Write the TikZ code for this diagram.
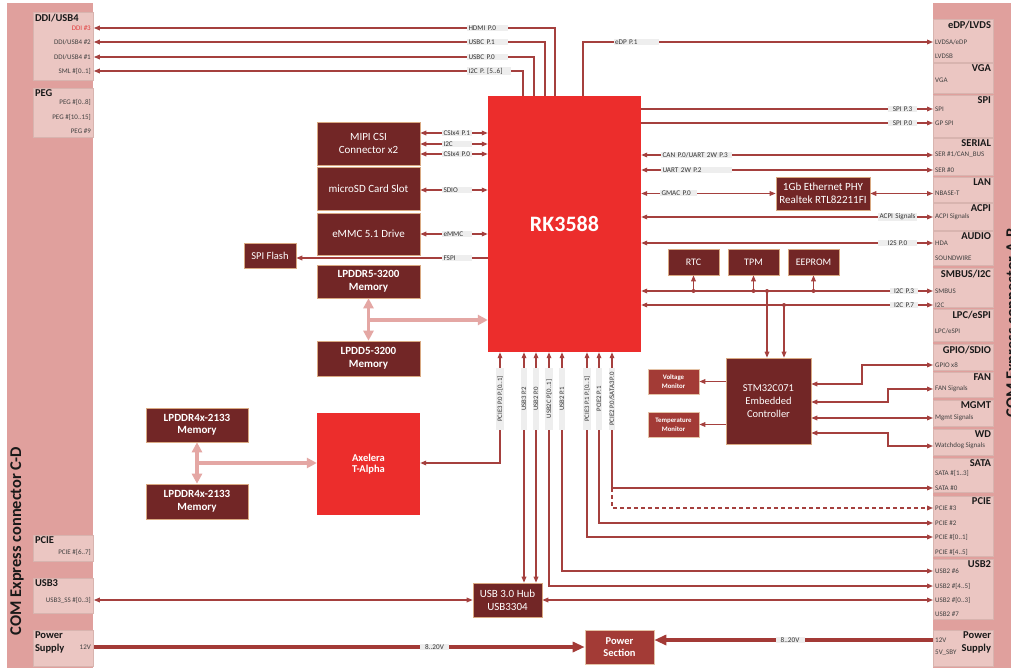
\documentclass[tikz,border=0pt]{standalone}
\usepackage{fontspec}
\setmainfont{Carlito}
\usetikzlibrary{arrows.meta}
\definecolor{mar}{HTML}{722626}
\definecolor{rkred}{HTML}{EC2D2C}
\definecolor{medred}{HTML}{A33B36}
\definecolor{cbar}{HTML}{E0A09D}
\definecolor{cboxc}{HTML}{EBC6C2}
\definecolor{cedge}{HTML}{D8B4AF}
\definecolor{lnc}{HTML}{A5403E}
\definecolor{pwc}{HTML}{A33A36}
\definecolor{pinkc}{HTML}{E4A7A4}
\definecolor{lblg}{HTML}{EEEEEE}
\definecolor{itmc}{HTML}{404040}
\definecolor{tanedge}{HTML}{D9A982}
\definecolor{ddired}{HTML}{E23B3B}
\begin{document}
\begin{tikzpicture}[x=1pt,y=-1pt,
  >={Triangle[length=6pt,width=4.6pt]},
  ln/.style={draw=lnc,line width=1.3pt},
  dbox/.style={fill=mar,draw=tanedge,line width=0.6pt,text=white,align=center,font=\fontsize{11}{13}\selectfont,inner sep=0pt},
  dboxb/.style={dbox,font=\bfseries\fontsize{11}{12.5}\selectfont},
  mbox/.style={fill=medred,draw=tanedge!70,line width=0.6pt,text=white,align=center,font=\bfseries\fontsize{10.5}{12.5}\selectfont,inner sep=0pt},
  rbox/.style={fill=rkred,draw=none,text=white,align=center,inner sep=0pt},
  cbox/.style={fill=cboxc,draw=cedge,line width=0.8pt,inner sep=0pt,anchor=north west,minimum width=60pt},
  ttl/.style={font=\bfseries\fontsize{10.5}{13}\selectfont,text=black!90,inner sep=0.8pt},
  itm/.style={font=\fontsize{7}{8}\selectfont,text=itmc,inner sep=1pt},
  lbl/.style={fill=lblg,font=\fontsize{7.2}{8}\selectfont,text=black!80,inner xsep=1.5pt,inner ysep=0.6pt},
  lblw/.style={lbl,text width=#1,align=left},
  lblc/.style={lbl,text width=#1,align=center},
  vlbl/.style={lbl,font=\fontsize{6.8}{8}\selectfont,rotate=90,minimum width=62pt},
  pw/.style={draw=pwc,line width=3.4pt,-{Triangle[length=12pt,width=10pt]}},
  pk/.style={draw=pinkc,line width=3.6pt},
  pkd/.style={pk,{Triangle[length=10pt,width=10pt]}-{Triangle[length=10pt,width=10pt]}},
  pka/.style={pk,-{Triangle[length=10pt,width=10pt]}},
  side/.style={font=\bfseries\fontsize{16.4}{18}\selectfont,text=black!90,rotate=90,inner sep=0pt}
]
\useasboundingbox (0,0) rectangle (1011,668);
\fill[white] (0,0) rectangle (1011,668);

% ---------- connector bars ----------
\fill[cbar] (7,3) rectangle (93,690);
\fill[cbar] (933,3) rectangle (1040,690);
\node[side] (sideL) at (17,541) {COM Express connector C-D};
\node[side] (sideR) at (1013,323) {COM Express connector A-B};

% left boxes
\node[cbox,minimum height=68pt] (ddi) at (33,12) {};
\node[cbox,minimum height=49pt] (peg) at (33,88) {};
\node[cbox,minimum height=26pt] (pcieL) at (33,535) {};
\node[cbox,minimum height=35pt] (usb3L) at (33,578) {};
\node[cbox,minimum height=36pt] (pwrL) at (33,630) {};
\node[ttl,anchor=north west] (tDDI) at (34,13) {DDI/USB4};
\node[ttl,anchor=north west] (tPEG) at (34,89) {PEG};
\node[ttl,anchor=north west] (tPCIEL) at (34,536) {PCIE};
\node[ttl,anchor=north west] (tUSB3) at (34,579) {USB3};
\node[ttl,anchor=north west,align=left] (tPwrL) at (34,631) {Power\\Supply};
\node[itm,anchor=east,text=ddired] (iDDI3) at (92,28) {DDI \#3};
\node[itm,anchor=east] (iDDI2) at (92,42) {DDI/USB4 \#2};
\node[itm,anchor=east] (iDDI1) at (92,57) {DDI/USB4 \#1};
\node[itm,anchor=east] (iSML) at (92,71) {SML \#[0..1]};
\node[itm,anchor=east] (iPEG1) at (92,102) {PEG \#[0..8]};
\node[itm,anchor=east] (iPEG2) at (92,117) {PEG \#[10..15]};
\node[itm,anchor=east] (iPEG3) at (92,131) {PEG \#9};
\node[itm,anchor=east] (iPCIEL) at (92,552) {PCIE \#[6..7]};
\node[itm,anchor=east] (iUSS) at (92,600) {USB3\_SS \#[0..3]};
\node[itm,anchor=east] (iV12L) at (92,647) {12V};

% right boxes
\node[cbox,minimum height=43pt] (edp) at (933,19) {};
\node[cbox,minimum height=30pt] (vga) at (933,63) {};
\node[cbox,minimum height=42pt] (spi) at (933,95) {};
\node[cbox,minimum height=37pt] (serial) at (933,138) {};
\node[cbox,minimum height=25pt] (lan) at (933,177) {};
\node[cbox,minimum height=27pt] (acpi) at (933,203) {};
\node[cbox,minimum height=34pt] (audio) at (933,231) {};
\node[cbox,minimum height=39pt] (smbus) at (933,268) {};
\node[cbox,minimum height=32pt] (lpc) at (933,309) {};
\node[cbox,minimum height=26pt] (gpio) at (933,344) {};
\node[cbox,minimum height=25pt] (fan) at (933,372) {};
\node[cbox,minimum height=26pt] (mgmt) at (933,400) {};
\node[cbox,minimum height=26pt] (wd) at (933,429) {};
\node[cbox,minimum height=34pt] (sata) at (933,458) {};
\node[cbox,minimum height=60pt] (pcieR) at (933,496) {};
\node[cbox,minimum height=60pt] (usb2) at (933,559) {};
\node[cbox,minimum height=36pt] (pwrR) at (933,630) {};

\node[ttl,anchor=north east] (tEDP) at (992,20) {eDP/LVDS};
\node[ttl,anchor=north east] (tVGA) at (992,64) {VGA};
\node[ttl,anchor=north east] (tSPI) at (992,96) {SPI};
\node[ttl,anchor=north east] (tSER) at (992,139) {SERIAL};
\node[ttl,anchor=north east] (tLAN) at (992,178) {LAN};
\node[ttl,anchor=north east] (tACPI) at (992,204) {ACPI};
\node[ttl,anchor=north east] (tAUD) at (992,232) {AUDIO};
\node[ttl,anchor=north east] (tSMB) at (992,269) {SMBUS/I2C};
\node[ttl,anchor=north east] (tLPC) at (992,310) {LPC/eSPI};
\node[ttl,anchor=north east] (tGPIO) at (992,345) {GPIO/SDIO};
\node[ttl,anchor=north east] (tFAN) at (992,373) {FAN};
\node[ttl,anchor=north east] (tMG) at (992,401) {MGMT};
\node[ttl,anchor=north east] (tWD) at (992,430) {WD};
\node[ttl,anchor=north east] (tSATA) at (992,459) {SATA};
\node[ttl,anchor=north east] (tPCIER) at (992,497) {PCIE};
\node[ttl,anchor=north east] (tUSB2) at (992,560) {USB2};
\node[ttl,anchor=north east,align=right] (tPwrR) at (992,631) {Power\\Supply};

\node[itm,anchor=west] (iLVDSA) at (934,42) {LVDSA/eDP};
\node[itm,anchor=west] (iLVDSB) at (934,56) {LVDSB};
\node[itm,anchor=west] (iVGA) at (934,80) {VGA};
\node[itm,anchor=west] (iSPI) at (934,109) {SPI};
\node[itm,anchor=west] (iGPSPI) at (934,123) {GP SPI};
\node[itm,anchor=west] (iSER1) at (934,155) {SER \#1/CAN\_BUS};
\node[itm,anchor=west] (iSER0) at (934,170) {SER \#0};
\node[itm,anchor=west] (iNB) at (934,193) {NBASE-T};
\node[itm,anchor=west] (iACPI) at (934,217) {ACPI Signals};
\node[itm,anchor=west] (iHDA) at (934,243) {HDA};
\node[itm,anchor=west] (iSW) at (934,258) {SOUNDWIRE};
\node[itm,anchor=west] (iSMB) at (934,291) {SMBUS};
\node[itm,anchor=west] (iI2C) at (934,305) {I2C};
\node[itm,anchor=west] (iLPC) at (934,331) {LPC/eSPI};
\node[itm,anchor=west] (iGPIO) at (934,365) {GPIO x8};
\node[itm,anchor=west] (iFAN) at (934,389) {FAN Signals};
\node[itm,anchor=west] (iMG) at (934,418) {Mgmt Signals};
\node[itm,anchor=west] (iWD) at (934,446) {Watchdog Signals};
\node[itm,anchor=west] (iSATA13) at (934,473) {SATA \#[1..3]};
\node[itm,anchor=west] (iSATA0) at (934,488) {SATA \#0};
\node[itm,anchor=west] (iP3) at (934,508) {PCIE \#3};
\node[itm,anchor=west] (iP2) at (934,523) {PCIE \#2};
\node[itm,anchor=west] (iP01) at (934,537) {PCIE \#[0..1]};
\node[itm,anchor=west] (iP45) at (934,552) {PCIE \#[4..5]};
\node[itm,anchor=west] (iU6) at (934,571) {USB2 \#6};
\node[itm,anchor=west] (iU45) at (934,586) {USB2 \#[4..5]};
\node[itm,anchor=west] (iU03) at (934,600) {USB2 \#[0..3]};
\node[itm,anchor=west] (iU7) at (934,614) {USB2 \#7};
\node[itm,anchor=west] (iV12R) at (934,640) {12V};
\node[itm,anchor=west] (iSBY) at (934,653) {5V\_SBY};

% ---------- main blocks ----------
\node[rbox,minimum width=153pt,minimum height=256pt,font=\bfseries\fontsize{22}{24}\selectfont] (rk) at (564.5,224) {RK3588};
\node[dbox,minimum width=103pt,minimum height=43pt] (mipi) at (368.5,143.5) {MIPI CSI\\Connector x2};
\node[dbox,minimum width=103pt,minimum height=43pt] (sd) at (368.5,188.5) {microSD Card Slot};
\node[dbox,minimum width=103pt,minimum height=42pt] (emmc) at (368.5,234) {eMMC 5.1 Drive};
\node[dbox,minimum width=52pt,minimum height=25pt,font=\fontsize{10.5}{12}\selectfont] (spif) at (270,255.5) {SPI Flash};
\node[dboxb,minimum width=103pt,minimum height=33pt] (lp5a) at (368.5,281.5) {LPDDR5-3200\\Memory};
\node[dboxb,minimum width=103pt,minimum height=35pt] (lp5b) at (368.5,358.5) {LPDD5-3200\\Memory};
\node[rbox,minimum width=103pt,minimum height=102pt,font=\bfseries\fontsize{10.5}{11.5}\selectfont] (axe) at (368.5,464) {Axelera\\T-Alpha};
\node[dboxb,minimum width=102pt,minimum height=34pt] (lp4a) at (197,425) {LPDDR4x-2133\\Memory};
\node[dboxb,minimum width=102pt,minimum height=35pt] (lp4b) at (197,501.5) {LPDDR4x-2133\\Memory};
\node[dbox,minimum width=69pt,minimum height=34pt,font=\fontsize{11}{13}\selectfont] (hub) at (507.5,600) {USB 3.0 Hub\\USB3304};
\node[mbox,minimum width=69pt,minimum height=34pt] (psec) at (619.5,647) {Power\\Section};
\node[dbox,minimum width=94pt,minimum height=33pt] (phy) at (823,193.5) {1Gb Ethernet PHY\\Realtek RTL82211FI};
\node[dbox,minimum width=51pt,minimum height=26pt,font=\fontsize{10}{11}\selectfont] (rtc) at (693.5,262) {RTC};
\node[dbox,minimum width=51pt,minimum height=26pt,font=\fontsize{10}{11}\selectfont] (tpm) at (753.5,262) {TPM};
\node[dbox,minimum width=51pt,minimum height=26pt,font=\fontsize{10}{11}\selectfont] (eep) at (813.5,262) {EEPROM};
\node[dbox,minimum width=85pt,minimum height=86pt,font=\fontsize{10.5}{13}\selectfont] (stm) at (768.5,401) {STM32C071\\Embedded\\Controller};
\node[mbox,minimum width=51pt,minimum height=25pt,font=\bfseries\fontsize{6.8}{9}\selectfont] (volt) at (673.5,381.5) {Voltage\\Monitor};
\node[mbox,minimum width=51pt,minimum height=25pt,font=\bfseries\fontsize{6.8}{9}\selectfont] (temp) at (673.5,424.5) {Temperature\\Monitor};

% ---------- helper coordinates ----------
\coordinate (xHDMI) at (555,0);
\coordinate (xUP1) at (545,0);
\coordinate (xUP0) at (534,0);
\coordinate (xI2C56) at (523,0);
\coordinate (xEDP) at (583,0);
\coordinate (xV1) at (500,0);
\coordinate (xV2) at (524,0);
\coordinate (xV3) at (536,0);
\coordinate (xV4) at (549,0);
\coordinate (xV5) at (562,0);
\coordinate (xV6) at (587,0);
\coordinate (xV7) at (599,0);
\coordinate (xV8) at (612,0);
\coordinate (xS1) at (767,0);
\coordinate (xS2) at (784,0);
\coordinate (xGP) at (862,0);
\coordinate (xFW) at (888,0);
\coordinate (yC1) at (0,133);
\coordinate (yC2) at (0,144);
\coordinate (yC3) at (0,154);
\coordinate (ySD) at (0,190);
\coordinate (yEM) at (0,234);
\coordinate (yFSPI) at (0,258);
\coordinate (yLP5) at (0,320);
\coordinate (yAX) at (0,463);
\coordinate (yGP) at (0,384);
\coordinate (yFAN) at (0,402);
\coordinate (yWD) at (0,433);

% ---------- connectors ----------
\draw[ln,->] (rk.north -| xHDMI) |- (ddi.east |- iDDI3);
\draw[ln,->] (rk.north -| xUP1) |- (ddi.east |- iDDI2);
\draw[ln,->] (rk.north -| xUP0) |- (ddi.east |- iDDI1);
\draw[ln,->] (rk.north -| xI2C56) |- (ddi.east |- iSML);
\draw[ln,->] (rk.north -| xEDP) |- (edp.west |- iLVDSA);

\draw[ln,->] (rk.east |- iSPI) -- (spi.west |- iSPI);
\draw[ln,->] (rk.east |- iGPSPI) -- (spi.west |- iGPSPI);
\draw[ln,<->] (rk.east |- iSER1) -- (serial.west |- iSER1);
\draw[ln,<->] (rk.east |- iSER0) -- (serial.west |- iSER0);
\draw[ln,<->] (rk.east |- phy) -- (phy.west);
\draw[ln,<->] (phy.east) -- (lan.west |- phy);
\draw[ln,<->] (rk.east |- iACPI) -- (acpi.west |- iACPI);
\draw[ln,<->] (rk.east |- iHDA) -- (audio.west |- iHDA);
\draw[ln,<->] (rk.east |- iSMB) -- (smbus.west |- iSMB);
\draw[ln,<->] (rk.east |- iI2C) -- (smbus.west |- iI2C);
\draw[ln,->] (rtc.south |- iSMB) -- (rtc.south);
\draw[ln,->] (tpm.south |- iSMB) -- (tpm.south);
\draw[ln,->] (eep.south |- iSMB) -- (eep.south);
\draw[ln,->] (xS1 |- iSMB) -- (xS1 |- stm.north);
\draw[ln,->] (xS2 |- iI2C) -- (xS2 |- stm.north);
\fill[lnc] (rtc.south |- iSMB) circle (2);
\fill[lnc] (tpm.south |- iSMB) circle (2);
\fill[lnc] (eep.south |- iSMB) circle (2);
\fill[lnc] (xS1 |- iSMB) circle (2);
\fill[lnc] (xS2 |- iI2C) circle (2);

\draw[ln,->] (stm.west |- volt) -- (volt.east);
\draw[ln,->] (stm.west |- temp) -- (temp.east);
\draw[ln,<->] (stm.east |- yGP) -| (xGP |- iGPIO) -- (gpio.west |- iGPIO);
\draw[ln,<->] (stm.east |- yFAN) -| (xFW |- iFAN) -- (fan.west |- iFAN);
\draw[ln,<->] (stm.east |- iMG) -- (mgmt.west |- iMG);
\draw[ln,<->] (stm.east |- yWD) -| (xFW |- iWD) -- (wd.west |- iWD);

\draw[ln,<->] (rk.south -| xV1) |- (axe.east |- yAX);
\draw[ln,<->] (rk.south -| xV2) -- (hub.north -| xV2);
\draw[ln,<->] (rk.south -| xV3) -- (hub.north -| xV3);
\draw[ln,<->] (rk.south -| xV4) |- (usb2.west |- iU45);
\draw[ln,<->] (rk.south -| xV5) |- (usb2.west |- iU6);
\draw[ln,<->] (rk.south -| xV6) |- (pcieR.west |- iP01);
\draw[ln,<->] (rk.south -| xV7) |- (pcieR.west |- iP2);
\draw[ln,<->] (rk.south -| xV8) |- (sata.west |- iSATA0);
\draw[ln,->,dash pattern=on 4pt off 3pt] (xV8 |- iSATA0) |- (pcieR.west |- iP3);
\draw[ln,<->] (hub.east |- iU03) -- (usb2.west |- iU03);
\draw[ln,<->] (usb3L.east |- iUSS) -- (hub.west |- iUSS);

\draw[ln,<->] (mipi.east |- yC1) -- (rk.west |- yC1);
\draw[ln,<->] (mipi.east |- yC2) -- (rk.west |- yC2);
\draw[ln,<->] (mipi.east |- yC3) -- (rk.west |- yC3);
\draw[ln,<->] (sd.east |- ySD) -- (rk.west |- ySD);
\draw[ln,<->] (emmc.east |- yEM) -- (rk.west |- yEM);
\draw[ln,->] (rk.west |- yFSPI) -- (spif.east |- yFSPI);

\draw[pkd] (lp5a.south) -- (lp5b.north);
\draw[pka] (lp5a.south |- yLP5) -- (rk.west |- yLP5);
\draw[pkd] (lp4a.south) -- (lp4b.north);
\draw[pka] (lp4a.south |- yAX) -- (axe.west |- yAX);

\draw[pw] (pwrL.east |- iV12L) -- (psec.west |- iV12L);
\draw[pw] (pwrR.west |- iV12R) -- (psec.east |- iV12R);

% ---------- line labels ----------
\node[lblw=38pt] (lHDMI) at (487.5,28) {HDMI P.0};
\node[lblw=38pt] (lUP1) at (487.5,42) {USBC P.1};
\node[lblw=38pt] (lUP0) at (487.5,57) {USBC P.0};
\node[lblw=41pt] (lI2C56) at (489,71) {I2C P. [5..6]};
\node[lblw=42pt] (lEDP) at (636,42) {eDP P.1};
\node[lblc=26pt] (lSPI3) at (902.5,109) {SPI P.3};
\node[lblc=26pt] (lSPI0) at (902.5,123) {SPI P.0};
\node[lblw=68pt] (lCAN) at (696.5,155) {CAN P.0/UART 2W P.3};
\node[lblw=68pt] (lUART) at (696.5,170) {UART 2W P.2};
\node[lblw=34pt] (lGMAC) at (678.5,193) {GMAC P.0};
\node[lblc=36pt] (lACPI) at (897.5,217) {ACPI Signals};
\node[lblc=36pt] (lI2S) at (897.5,243) {I2S P.0};
\node[lblc=25pt] (lI2C3) at (904,291) {I2C P.3};
\node[lblc=25pt] (lI2C7) at (904,305) {I2C P.7};
\node[lblw=27pt] (lC1) at (457,133) {CSIx4 P.1};
\node[lblw=27pt] (lC2) at (457,144) {I2C};
\node[lblw=27pt] (lC3) at (457,154) {CSIx4 P.0};
\node[lblw=27pt] (lSDIO) at (457,190) {SDIO};
\node[lblw=27pt] (lEMMC) at (457,234) {eMMC};
\node[lblw=27pt] (lFSPI) at (457,258) {FSPI};
\node[lblc=26pt] (lPL) at (434.5,647) {8..20V};
\node[lblc=26pt] (lPR) at (790,640) {8..20V};
\node[vlbl] (vl1) at (500,399) {PCIE3 P.0 P.[0..1]};
\node[vlbl] (vl2) at (524,399) {USB3 P.2};
\node[vlbl] (vl3) at (536,399) {USB2 P.0};
\node[vlbl] (vl4) at (549,399) {USB2C P.[0..1]};
\node[vlbl] (vl5) at (562,399) {USB2 P.1};
\node[vlbl] (vl6) at (587,399) {PCIE3 P.1 P.[0..1]};
\node[vlbl] (vl7) at (599,399) {PCIE2 P.1};
\node[vlbl] (vl8) at (612,399) {PCIE2 P.0/SATA3 P.0};
\end{tikzpicture}
\end{document}
